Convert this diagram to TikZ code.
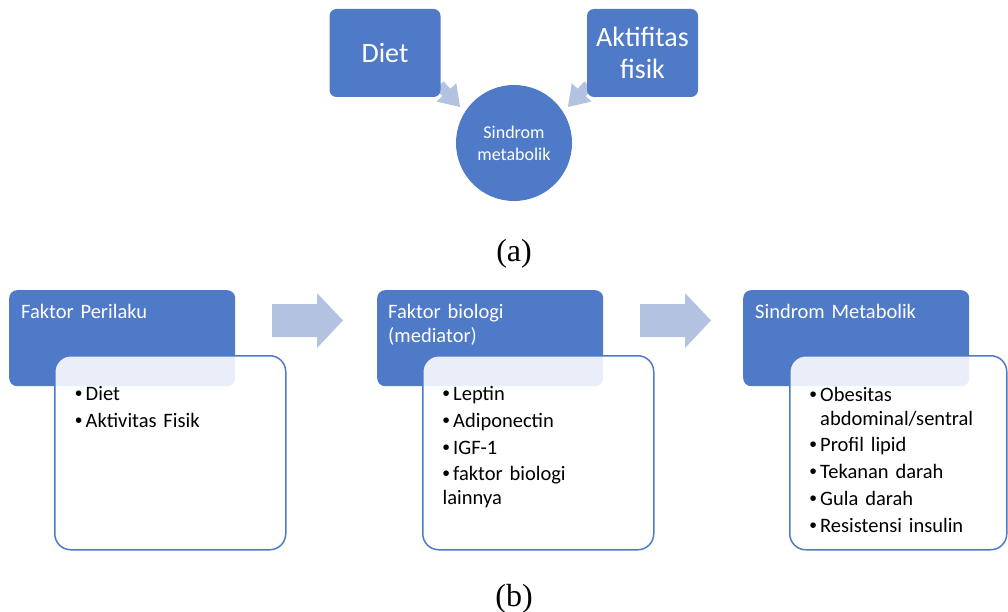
\documentclass[tikz,border=0pt]{standalone}
\usepackage{fontspec}
\setmainfont{Carlito}
\newfontfamily\capfont{Liberation Serif}
\newfontfamily\bulfont{Liberation Sans}
\usetikzlibrary{positioning, calc}
\definecolor{smblue}{RGB}{78,122,199}
\definecolor{smlight}{RGB}{180,194,226}
% one bullet item with hanging indent
\newcommand{\li}[1]{\par\hangindent=10.5pt\hangafter=1\noindent\strut\makebox[10.5pt][l]{\bulfont\textbullet}#1}

\tikzset{
  topbox/.style={fill=smblue, rounded corners=7pt, minimum width=111pt, minimum height=88pt,
    text=white, font=\fontsize{28}{32}\selectfont, align=center, inner sep=0pt},
  hdbox/.style={fill=smblue, rounded corners=8pt, minimum width=226pt, minimum height=96pt,
    anchor=north west, inner sep=0pt},
  hdtext/.style={text=white, anchor=north west, inner sep=0pt, text width=210pt,
    execute at begin node=\raggedright, font=\fontsize{20.5}{24}\selectfont},
  listbox/.style={draw=smblue, line width=1.5pt, fill=white, fill opacity=0.88,
    rounded corners=16pt, minimum width=231pt, minimum height=194pt, anchor=north west},
  listtext/.style={anchor=north west, inner sep=0pt, text width=180pt,
    execute at begin node={\raggedright\setlength{\parskip}{3.3pt}},
    font=\fontsize{20.5}{23.5}\selectfont},
  capt/.style={font=\capfont\fontsize{32}{36}\selectfont, anchor=base, inner sep=0pt}
}

\begin{document}
\begin{tikzpicture}[x=1pt, y=-1pt]
  \useasboundingbox (0,0) rectangle (1008,612);

  % (a) converging arrows
  \fill[smlight] (460,107) -- (456.3,83.2) -- (450.4,88.7) -- (443.6,81.4)
    -- (435.6,88.8) -- (442.4,96.1) -- (436.5,101.6) -- cycle;
  \fill[smlight] (568,107) -- (571.7,83.2) -- (577.6,88.7) -- (584.4,81.4)
    -- (592.4,88.8) -- (585.6,96.1) -- (591.5,101.6) -- cycle;

  \node[topbox] (diet) at (385,53) {Diet};
  \node[topbox] (akt) at (642.5,53) {Aktifitas\\fisik};
  \node[circle, fill=smblue, minimum size=116pt, inner sep=0pt, text=white, align=center,
    font=\fontsize{18}{22}\selectfont] (sm) at (514,143) {Sindrom\\metabolik};

  \node[capt] (capa) at (514,261.5) {(a)};

  % (b) three stages
  \node[hdbox] (h1) at (9,290) {};
  \node[hdbox] (h2) at (377,290) {};
  \node[hdbox] (h3) at (743,290) {};

  \node[hdtext, below right=11.2pt and 12pt of h1.north west] (t1) {\strut Faktor Perilaku};
  \node[hdtext, below right=11.2pt and 11pt of h2.north west] (t2) {\strut Faktor biologi\\(mediator)};
  \node[hdtext, below right=11.2pt and 12pt of h3.north west] (t3) {\strut Sindrom Metabolik};

  \node[listbox] (l1) at (54,355) {};
  \node[listbox] (l2) at (422,355) {};
  \node[listbox, minimum width=217pt] (l3) at (789,355) {};

  \node[listtext, below right=18.5pt and 21pt of l1.north west] (b1)
    {\li{Diet}\li{Aktivitas Fisik}};
  \node[listtext, below right=18.5pt and 20.5pt of l2.north west] (b2)
    {\li{Leptin}\li{Adiponectin}\li{IGF-1}\li{faktor biologi lainnya}};
  \node[listtext, below right=19.5pt and 20.5pt of l3.north west] (b3)
    {\li{Obesitas abdominal/sentral}\li{Profil lipid}\li{Tekanan darah}%
     \li{Gula darah}\li{Resistensi insulin}};

  % block arrows between stages
  \foreach \x in {272,640} {
    \fill[smlight] (\x,304) -- ++(45,0) -- ++(0,-11) -- ++(26,27.5) -- ++(-26,27.5)
      -- ++(0,-11) -- ++(-45,0) -- cycle;
  }

  \node[capt] (capb) at (514,606.5) {(b)};
\end{tikzpicture}
\end{document}
